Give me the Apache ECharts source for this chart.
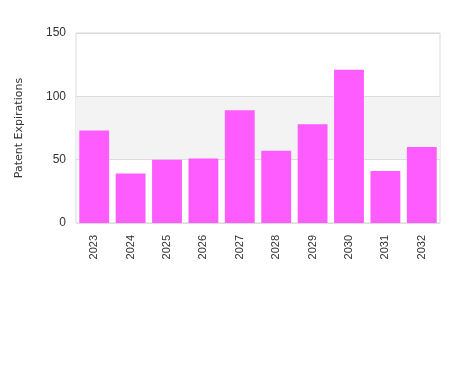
<!DOCTYPE html>
<html>
<head>
<meta charset="utf-8">
<script src="https://cdn.jsdelivr.net/npm/echarts@6/dist/echarts.min.js"></script>
<style>html,body{margin:0;padding:0;background:#fff}#c{width:450px;height:375px}</style>
</head>
<body>
<div id="c"></div>
<script>
const categories = ['2023','2024','2025','2026','2027','2028','2029','2030','2031','2032'];
const expirations = [73, 39, 50, 51, 89, 57, 78, 121, 41, 60];
const yTicks = [0, 50, 100, 150];

const chart = echarts.init(document.getElementById('c'), null, {renderer: 'canvas'});
chart.setOption({
  animation: false,
  grid: {left: 76, right: 10, top: 33, bottom: 152, show: true, borderColor: '#d9d9d9', borderWidth: 1},
  xAxis: {
    type: 'category',
    data: categories,
    axisLine: {show: false},
    axisTick: {show: false},
    axisLabel: {rotate: 90, color: '#333', fontSize: 11, fontFamily: 'Liberation Sans, Arial, sans-serif', margin: 12}
  },
  yAxis: {
    type: 'value',
    min: yTicks[0], max: yTicks[yTicks.length-1], interval: 50,
    name: 'Patent Expirations',
    nameLocation: 'middle',
    nameGap: 51,
    nameTextStyle: {color: '#333', fontSize: 11, fontFamily: 'DejaVu Sans, sans-serif'},
    axisLine: {show: false},
    axisTick: {show: false},
    axisLabel: {color: '#333', fontSize: 12, fontFamily: 'Liberation Sans, Arial, sans-serif', margin: 10},
    splitLine: {lineStyle: {color: '#dcdcdc'}},
    splitArea: {show: true, areaStyle: {color: ['rgba(255,255,255,0)', '#f3f3f3']}}
  },
  series: [{
    type: 'bar',
    data: expirations,
    barCategoryGap: '18%',
    itemStyle: {color: '#ff5cff'}
  }]
});
</script>
</body>
</html>
